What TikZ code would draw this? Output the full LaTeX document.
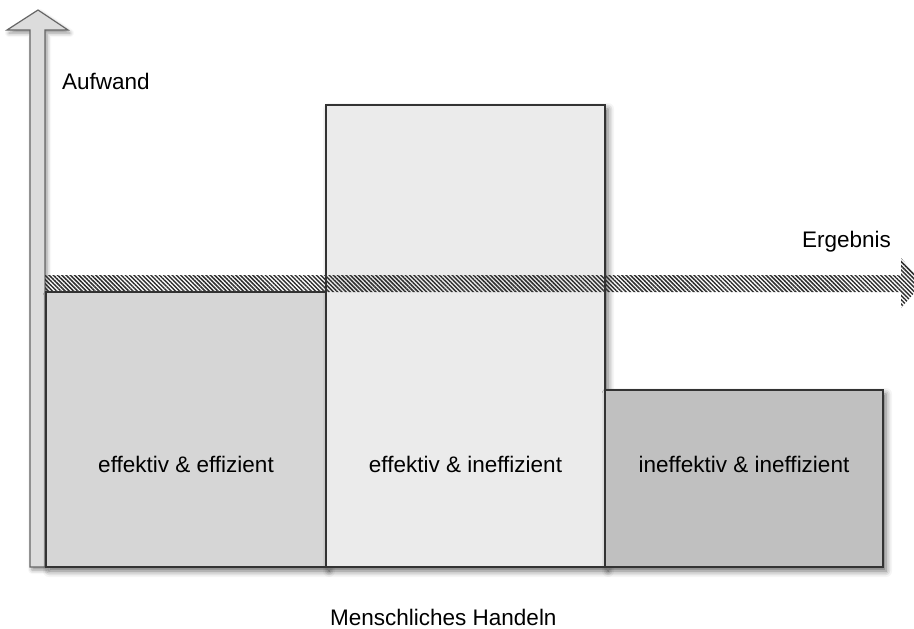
\documentclass[tikz,border=0pt]{standalone}
\usepackage{fontspec}
\setmainfont{Liberation Sans}
\usetikzlibrary{shadows.blur,patterns.meta}
\definecolor{cA}{HTML}{D6D6D6}
\definecolor{cB}{HTML}{EBEBEB}
\definecolor{cC}{HTML}{C0C0C0}
\definecolor{cArr}{HTML}{DCDCDC}
\begin{document}
\begin{tikzpicture}[x=1pt,y=-1pt,
  txt/.style={font=\fontsize{22.5}{27}\selectfont, inner sep=0pt},
  box/.style={draw=black!80, line width=1.5pt, inner sep=0pt, outer sep=0pt,
    blur shadow={shadow xshift=3pt, shadow yshift=-4pt, shadow blur radius=6pt, shadow opacity=60}},
  edge/.style={draw=black!80, line width=1.5pt},
  varrow/.style={draw=black!60, line width=1.2pt, fill=cArr,
    blur shadow={shadow xshift=2pt, shadow yshift=-3pt, shadow blur radius=4pt, shadow opacity=45}},
  band/.style={pattern={Lines[angle=-45,distance=3pt,line width=1.5pt]}, pattern color=black!82}
]
\useasboundingbox (0,0) rectangle (914,629);

% vertical arrow
\coordinate (vb1) at (30,567);
\coordinate (vb2) at (45,567);
\draw[varrow] (vb1) -- (30,30) -- (7,30) -- (38,10) -- (68,30) -- (45,30) -- (vb2) -- cycle;

% boxes
\node[box, fill=cA, minimum width=280pt, minimum height=275pt] (b1) at (186,429.5) {};
\node[box, fill=cB, minimum width=279pt, minimum height=462pt] (b2) at (465.5,336) {};
\node[box, fill=cC, minimum width=278pt, minimum height=177pt] (b3) at (744,478.5) {};

% hatched band arrow
\coordinate (ht) at (923,283);
\path[band] (45,275) -- (901,275) -- (901,258) -- (ht) -- (901,308) -- (901,292) -- (45,292) -- cycle;

% redraw box outlines over the band
\draw[edge] (b1.north west) rectangle (b1.south east);
\draw[edge] (b2.north west) rectangle (b2.south east);
\draw[edge] (b3.north west) rectangle (b3.south east);

% labels
\node[txt, anchor=base] (l1) at (186,472) {effektiv \& effizient};
\node[txt, anchor=base] (l2) at (465.5,472) {effektiv \& ineffizient};
\node[txt, anchor=base] (l3) at (744,472) {ineffektiv \& ineffizient};
\node[txt, anchor=base west] (aw) at (62,89) {Aufwand};
\node[txt, anchor=base east] (eg) at (891,247) {Ergebnis};
\node[txt, anchor=base west] (mh) at (330,625) {Menschliches Handeln};
\end{tikzpicture}
\end{document}
